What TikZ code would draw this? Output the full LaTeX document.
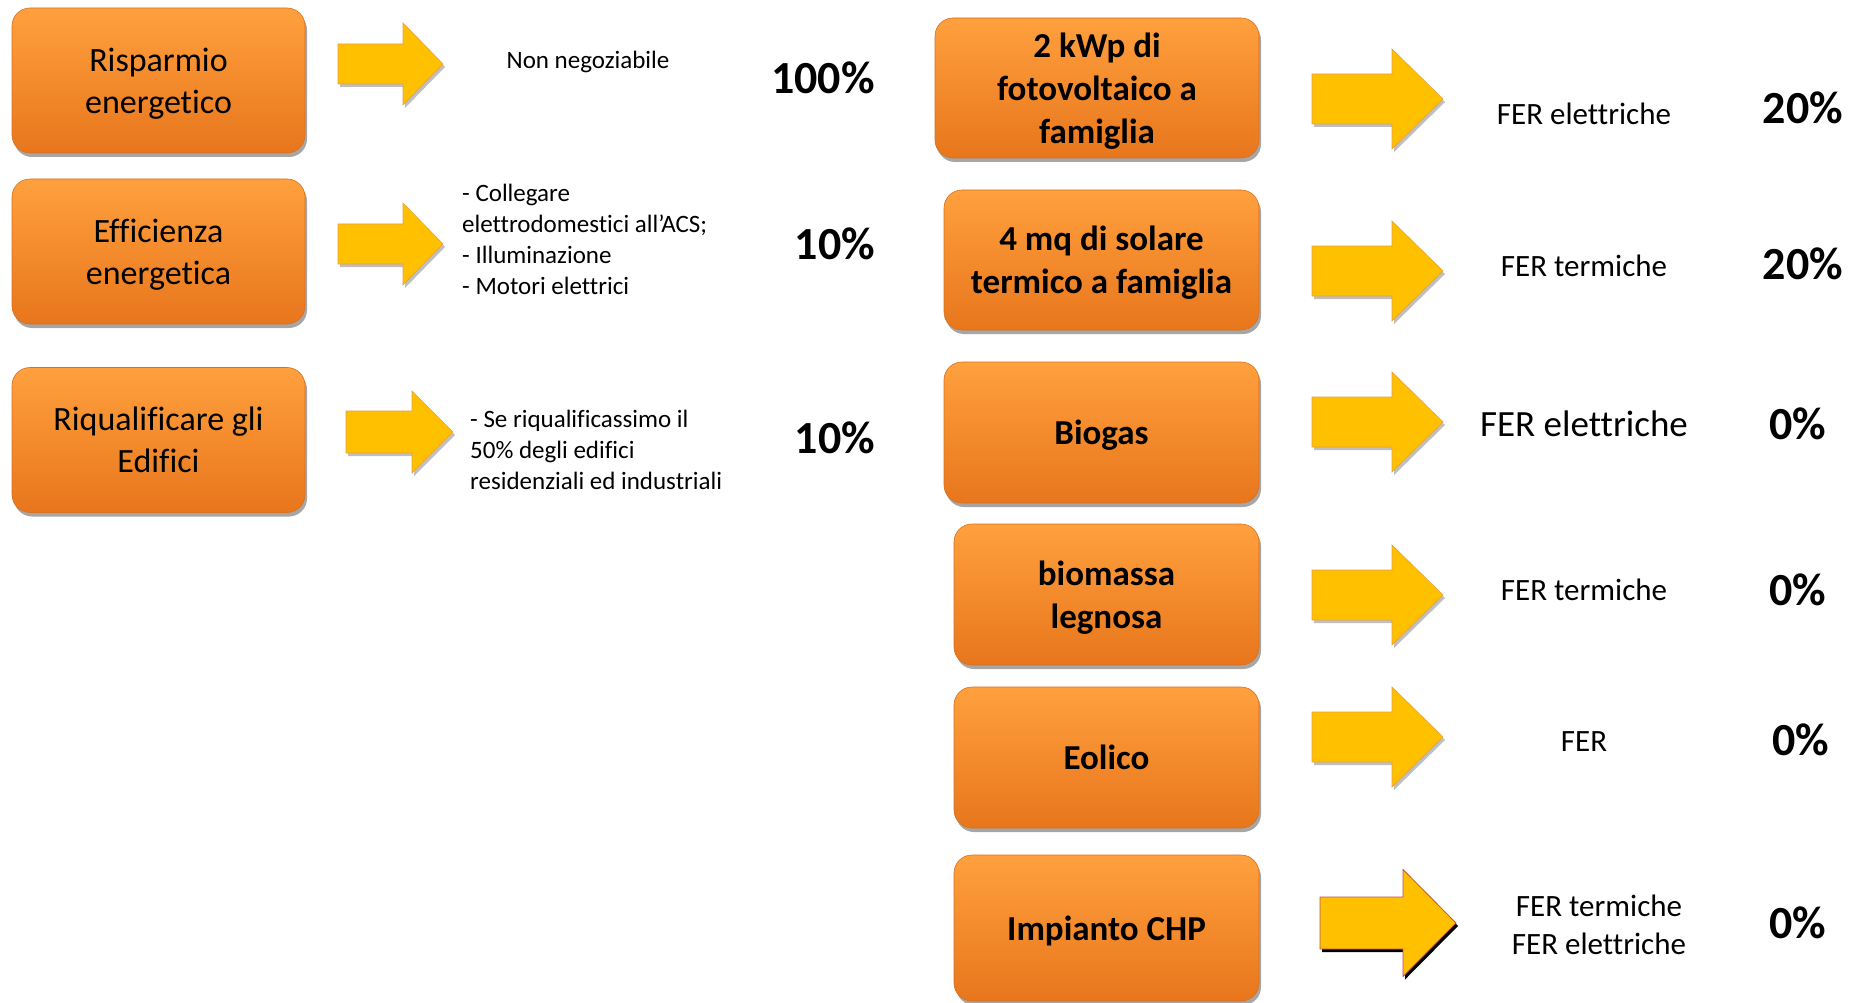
\documentclass[tikz,border=0pt]{standalone}
\usepackage{fontspec}
\setmainfont{Carlito}[Ligatures={NoCommon,NoContextual},Contextuals={NoAlternate}]
\usetikzlibrary{shadows}
\definecolor{boxtop}{HTML}{FFA03E}
\definecolor{boxbot}{HTML}{E8761C}
\definecolor{boxline}{HTML}{D8701E}
\definecolor{arrowfill}{HTML}{FFC000}
\definecolor{arrowline}{HTML}{E8A040}
\definecolor{arrowred}{HTML}{C0504D}
\tikzset{
  orangebox/.style={rounded corners=18pt, top color=boxtop, bottom color=boxbot,
    draw=boxline, line width=0.6pt, align=center, inner sep=0pt, text depth=0pt,
    drop shadow={shadow xshift=2pt, shadow yshift=-4pt, opacity=0.35, fill=black}},
  leftbox/.style={orangebox, minimum width=293pt, minimum height=145pt,
    font=\fontsize{34}{42}\selectfont},
  rightbox/.style={orangebox, font=\bfseries\fontsize{35}{43}\selectfont},
  arrowstyle/.style={fill=arrowfill, draw=arrowline, line width=0.6pt,
    drop shadow={shadow xshift=2pt, shadow yshift=-3pt, opacity=0.25, fill=black}},
  arrowstylered/.style={fill=arrowfill, draw=arrowred, line width=0.8pt,
    drop shadow={shadow xshift=2pt, shadow yshift=-3pt, opacity=1, fill=black}},
  smalltext/.style={inner sep=0pt, font=\fontsize{25}{31}\selectfont, align=left},
  fertext/.style={inner sep=0pt, font=\fontsize{31}{38}\selectfont, align=center},
  pct/.style={inner sep=0pt, font=\bfseries\fontsize{46}{50}\selectfont},
  pics/fatarrow/.style n args={5}{code={%
    \path[#5] (0,-#2) -- ({#1-#4},-#2) -- ({#1-#4},-#3) -- (#1,0)
      -- ({#1-#4},#3) -- ({#1-#4},#2) -- (0,#2) -- cycle;
  }}
}
\begin{document}
\begin{tikzpicture}[x=1pt,y=-1pt]
\useasboundingbox[fill=white] (0,0) rectangle (1863,1003);

% left column boxes
\node[leftbox] (risp) at (158.5,80.5) {Risparmio\\energetico};
\node[leftbox] (effi) at (158.5,251.5) {Efficienza\\energetica};
\node[leftbox] (riqu) at (158.5,440) {Riqualificare gli\\Edifici};

% left arrows
\pic (a1) at (338,64) {fatarrow={105}{20}{41}{40}{arrowstyle}};
\pic (a2) at (338,244) {fatarrow={105}{20}{41}{40}{arrowstyle}};
\pic (a3) at (346,432) {fatarrow={107}{21}{41}{41}{arrowstyle}};

% left texts
\node[smalltext] (t1) at (588,62) {Non negoziabile};
\node[smalltext, anchor=west] (t2) at (462,239) {- Collegare\\elettrodomestici all’ACS;\\- Illuminazione\\- Motori elettrici};
\node[smalltext, anchor=west] (t3) at (470,450) {- Se riqualificassimo il\\50\% degli edifici\\residenziali ed industriali};

\node[pct] (p1) at (823,78) {100\%};
\node[pct] (p2) at (835,244) {10\%};
\node[pct] (p3) at (835,438) {10\%};

% right column boxes
\node[rightbox, minimum width=324pt, minimum height=140pt] (fv) at (1097,88) {2 kWp di\\fotovoltaico a\\famiglia};
\node[rightbox, minimum width=315pt, minimum height=140pt] (st) at (1101.5,260) {4 mq di solare\\termico a famiglia};
\node[rightbox, minimum width=315pt, minimum height=141pt] (bg) at (1101.5,432.5) {Biogas};
\node[rightbox, minimum width=305pt, minimum height=141pt] (bm) at (1106.5,594.5) {biomassa\\legnosa};
\node[rightbox, minimum width=305pt, minimum height=141pt] (eo) at (1106.5,757.5) {Eolico};
\node[rightbox, minimum width=305pt, minimum height=146pt] (chp) at (1106.5,928) {Impianto CHP};

% right arrows
\pic (r1) at (1312,99) {fatarrow={131}{25}{50}{51}{arrowstyle}};
\pic (r2) at (1312,271) {fatarrow={131}{25}{50}{51}{arrowstyle}};
\pic (r3) at (1312,422) {fatarrow={131}{25}{50}{51}{arrowstyle}};
\pic (r4) at (1312,595) {fatarrow={131}{25}{50}{51}{arrowstyle}};
\pic (r5) at (1312,737) {fatarrow={131}{25}{50}{51}{arrowstyle}};
\pic (r6) at (1320,923) {fatarrow={136}{26}{53.5}{53}{arrowstylered}};

% right texts
\node[fertext] (f1) at (1584,114) {FER elettriche};
\node[fertext] (f2) at (1584,266) {FER termiche};
\node[fertext, font=\fontsize{37}{44}\selectfont] (f3) at (1584,424) {FER elettriche};
\node[fertext] (f4) at (1584,590) {FER termiche};
\node[fertext] (f5) at (1584,742) {FER};
\node[fertext] (f6) at (1599,925) {FER termiche\\FER elettriche};

\node[pct] (q1) at (1803,108) {20\%};
\node[pct] (q2) at (1803,264) {20\%};
\node[pct] (q3) at (1798,424) {0\%};
\node[pct] (q4) at (1798,590) {0\%};
\node[pct] (q5) at (1801,740) {0\%};
\node[pct] (q6) at (1798,923) {0\%};
\end{tikzpicture}
\end{document}
